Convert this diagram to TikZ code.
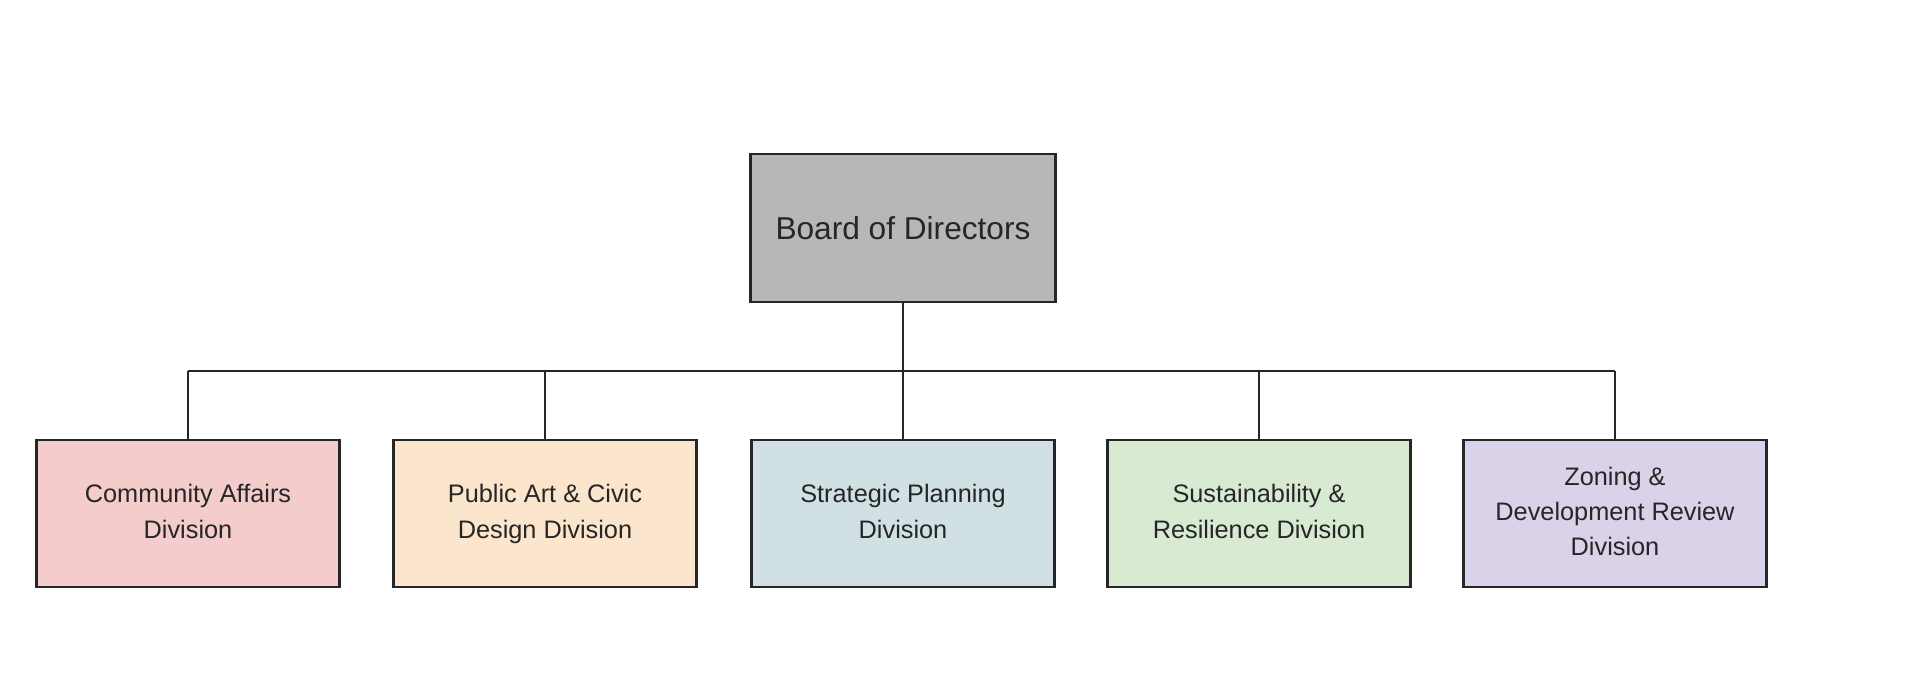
\documentclass[tikz,border=0pt]{standalone}
\usepackage{fontspec}
\setmainfont{Liberation Sans}
\usepackage{tikz}
\usetikzlibrary{calc}

\definecolor{boardgrey}{HTML}{B7B7B7}
\definecolor{commpink}{HTML}{F4CCCC}
\definecolor{artpeach}{HTML}{FCE5CD}
\definecolor{stratblue}{HTML}{D0E0E3}
\definecolor{sustgreen}{HTML}{D9EAD3}
\definecolor{zonlilac}{HTML}{D9D2E9}

\tikzset{
  orgbox/.style={draw=black!85, line width=0.7pt, inner sep=0pt,
    minimum width=3.03cm, minimum height=1.47cm, align=center,
    text=black!85},
  divbox/.style={orgbox, font=\fontsize{7.2}{10}\selectfont,
    execute at end node=\strut},
  link/.style={draw=black!85, line width=0.6pt}
}

\begin{document}
\begin{tikzpicture}
  \useasboundingbox (0,0) rectangle (19.08,6.78);
  \node[orgbox, fill=boardgrey, minimum width=3.05cm, minimum height=1.48cm,
    font=\fontsize{9}{11}\selectfont] (board) at (9.03,4.50) {Board of Directors};
  \node[divbox, fill=commpink] (comm) at (1.88,1.645) {\strut Community Affairs\\Division};
  \node[divbox, fill=artpeach] (art) at (5.45,1.645) {\strut Public Art \& Civic\\Design Division};
  \node[divbox, fill=stratblue] (strat) at (9.03,1.645) {\strut Strategic Planning\\Division};
  \node[divbox, fill=sustgreen] (sust) at (12.59,1.645) {\strut Sustainability \&\\Resilience Division};
  \node[divbox, fill=zonlilac] (zon) at (16.15,1.645) {\strut Zoning \&\\Development Review\\Division};
  \coordinate (busl) at (1.88,3.07);
  \coordinate (busr) at (16.15,3.07);
  \draw[link] (busl) -- (busr);
  \draw[link] (board) -- (strat);
  \foreach \n in {comm,art,sust,zon}
    \draw[link] (\n) -- (\n |- busl);
\end{tikzpicture}
\end{document}
